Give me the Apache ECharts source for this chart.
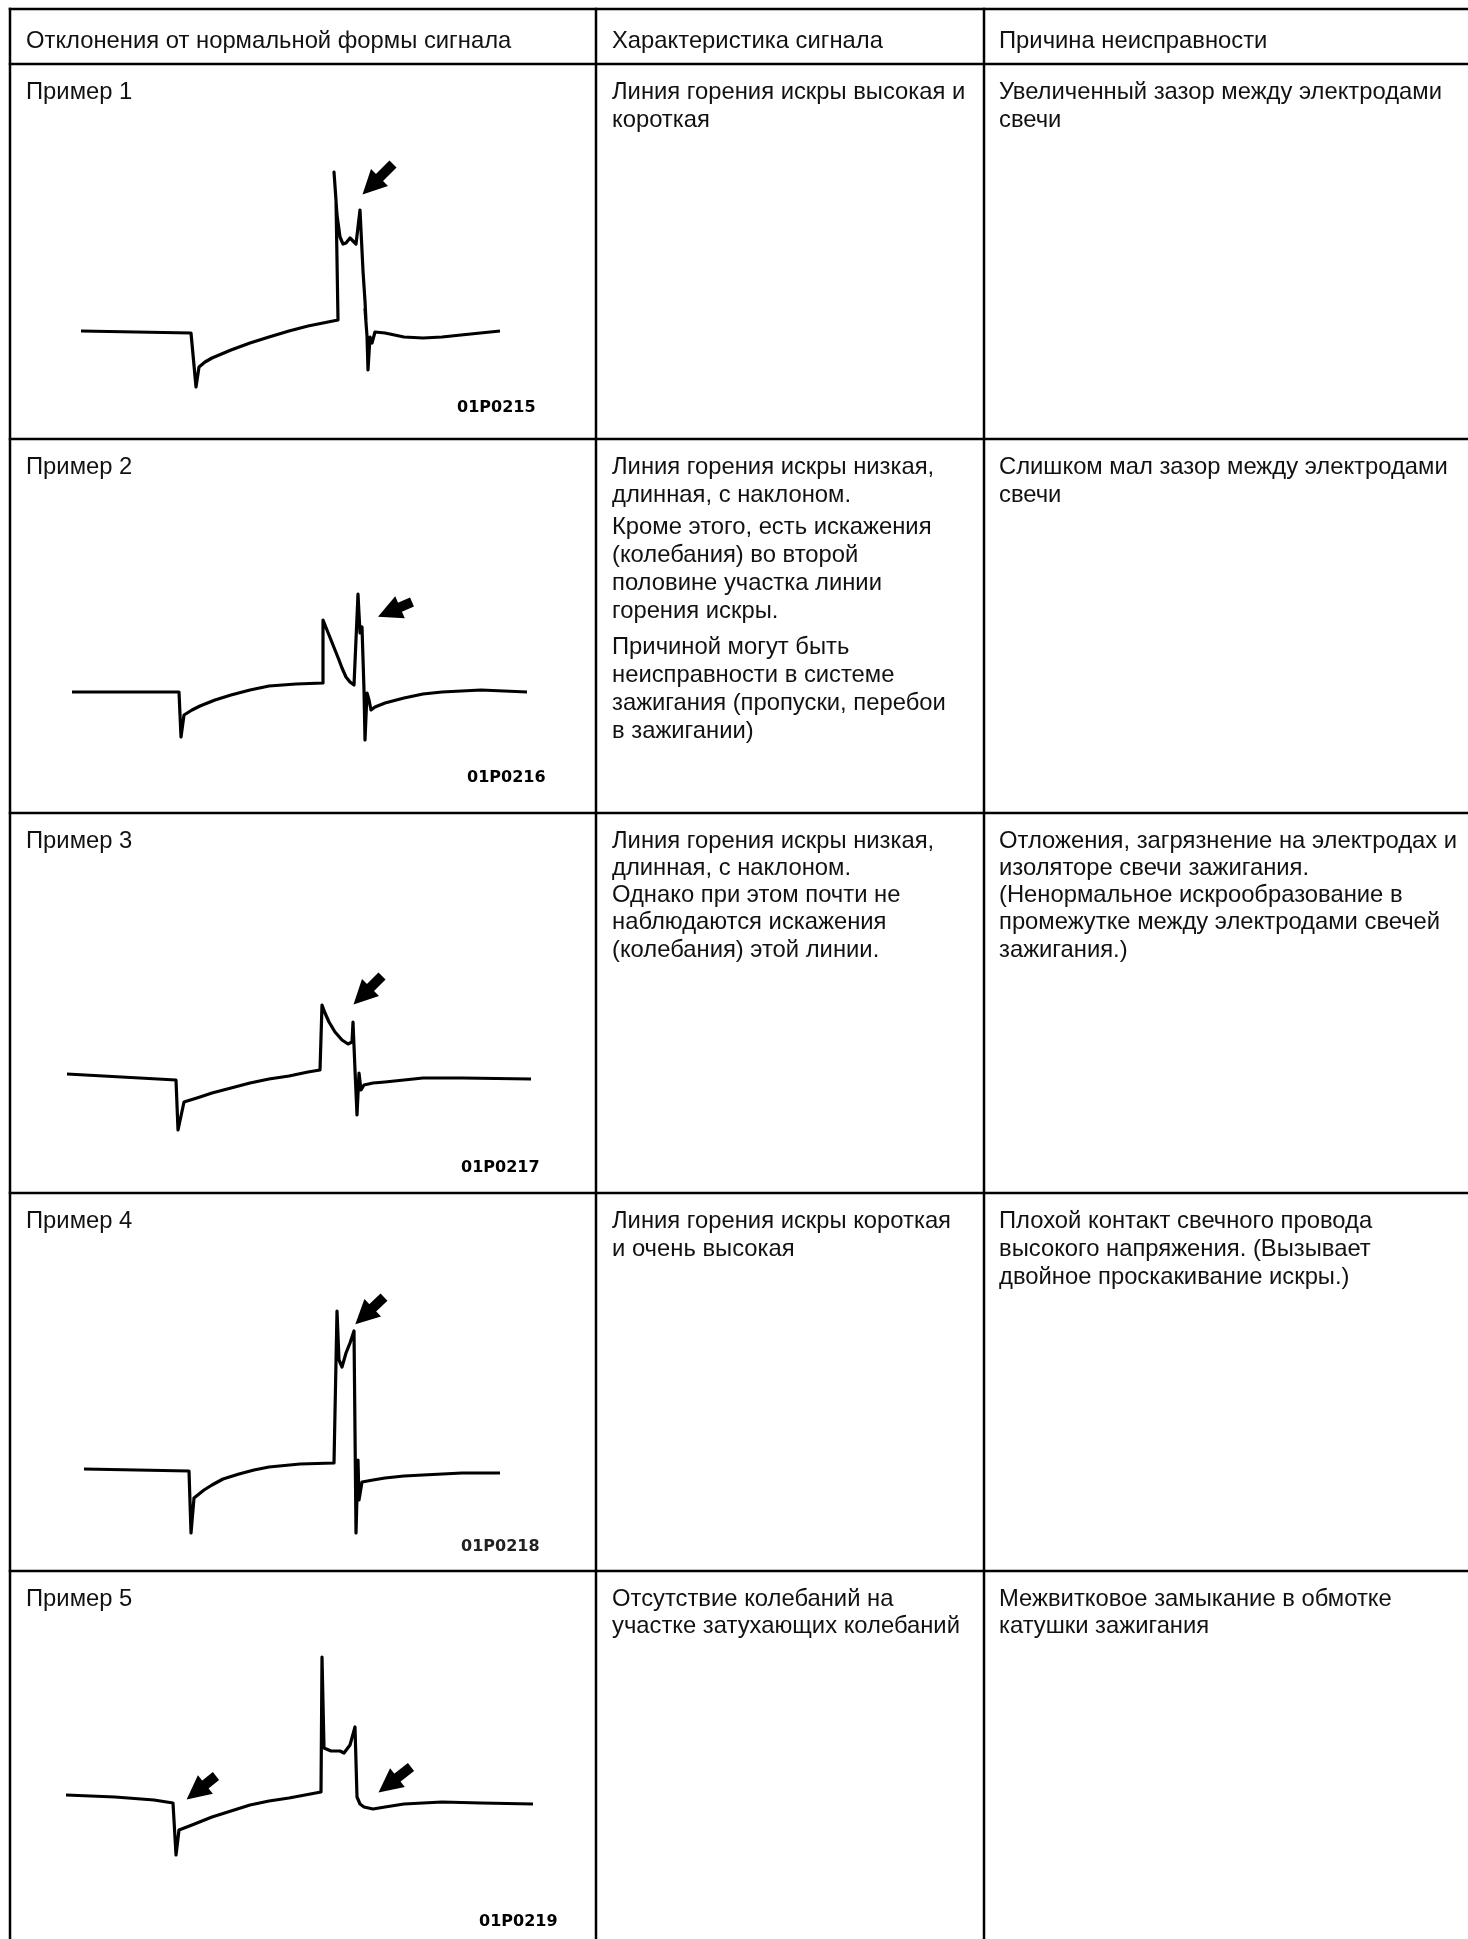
<!DOCTYPE html>
<html><head><meta charset="utf-8">
<script src="https://cdn.jsdelivr.net/npm/echarts@6/dist/echarts.min.js"></script>
<style>html,body{margin:0;padding:0;background:#fff}#c{width:1468px;height:1939px}</style>
</head><body><div id="c"></div>
<script>
// ---- texts ----
const headers = ['Отклонения от нормальной формы сигнала', 'Характеристика сигнала', 'Причина неисправности'];
const examples = ['Пример 1', 'Пример 2', 'Пример 3', 'Пример 4', 'Пример 5'];
const codes = ['01P0215', '01P0216', '01P0217', '01P0218', '01P0219'];
const characteristic = [
  [['Линия горения искры высокая и', 'короткая']],
  [['Линия горения искры низкая,', 'длинная, с наклоном.'],
   ['Кроме этого, есть искажения', '(колебания) во второй', 'половине участка линии', 'горения искры.'],
   ['Причиной могут быть', 'неисправности в системе', 'зажигания (пропуски, перебои', 'в зажигании)']],
  [['Линия горения искры низкая,', 'длинная, с наклоном.', 'Однако при этом почти не', 'наблюдаются искажения', '(колебания) этой линии.']],
  [['Линия горения искры короткая', 'и очень высокая']],
  [['Отсутствие колебаний на', 'участке затухающих колебаний']]
];
const cause = [
  [['Увеличенный зазор между электродами', 'свечи']],
  [['Слишком мал зазор между электродами', 'свечи']],
  [['Отложения, загрязнение на электродах и', 'изоляторе свечи зажигания.', '(Ненормальное искрообразование в', 'промежутке между электродами свечей', 'зажигания.)']],
  [['Плохой контакт свечного провода', 'высокого напряжения. (Вызывает', 'двойное проскакивание искры.)']],
  [['Межвитковое замыкание в обмотке', 'катушки зажигания']]
];

// ---- waveforms: [time, voltage] (arbitrary units) ----
const wave1 = [[21,0],[131,-2],[136,-56],[139,-36],[145,-31],[152,-27],[171,-19],[190,-12],[209,-6],[229,0],[248,5],[278,11],[276,131],[274,159],[277,116],[280,94],[283,87],[286,88],[290,93],[296,87],[300,121],[303,60],[305,30],[306,10],[305,22],[307,-5],[308,-39],[310,-6],[312,-12],[315,-1],[325,-2],[344,-6],[363,-7],[382,-6],[401,-4],[440,0]];
const wave2 = [[12,0],[119,0],[121,-45],[124,-23],[132,-18],[140,-14],[155,-8],[171,-3],[190,2],[209,6],[236,8],[263,9],[263,72],[267,62],[271,52],[275,42],[279,32],[282,24],[286,15],[290,10],[294,7],[298,98],[300,59],[302,65],[304,2],[305,-48],[307,-1],[309,-8],[311,-18],[315,-15],[325,-11],[344,-6],[363,-2],[382,0],[421,2],[467,0]];
const wave3 = [[7,0],[116,-6],[118,-56],[124,-28],[140,-23],[152,-19],[171,-14],[190,-9],[209,-5],[229,-2],[248,2],[260,4],[262,69],[265,61],[269,52],[275,42],[282,34],[288,30],[292,32],[293,52],[295,4],[297,-41],[299,1],[301,-16],[304,-11],[313,-9],[325,-8],[344,-6],[363,-4],[402,-4],[471,-5]];
const wave4 = [[24,0],[129,-2],[131,-64],[134,-29],[144,-21],[152,-16],[163,-10],[179,-5],[194,-1],[209,2],[240,5],[274,6],[277,158],[279,109],[282,102],[286,116],[290,126],[294,138],[296,-64],[298,9],[299,-31],[302,-13],[313,-11],[325,-9],[344,-7],[363,-6],[402,-4],[440,-4]];
const wave5 = [[6,0],[55,-2],[94,-5],[113,-8],[116,-60],[119,-35],[132,-30],[152,-22],[171,-16],[190,-10],[209,-6],[229,-3],[261,3],[262,138],[264,47],[271,44],[280,44],[284,42],[290,50],[295,68],[297,-2],[300,-9],[304,-12],[313,-14],[325,-12],[344,-9],[382,-7],[421,-8],[473,-9]];
// arrows: [tail, head]
const arrows1 = [[[333,167],[311,145]]];
const arrows2 = [[[352,90],[329,80]]];
const arrows3 = [[[322,98],[302,78]]];
const arrows4 = [[[324,172],[304,153]]];
const arrows5 = [[[156,19],[136,3]], [[351,28],[328,10]]];

const waves = [wave1, wave2, wave3, wave4, wave5];
const arrows = [arrows1, arrows2, arrows3, arrows4, arrows5];

// ---- layout ----
const rowTops = [64, 439, 813, 1193, 1571];
const baselines = [331, 692, 1074, 1469, 1795];
const codePos = [[457, 408], [467, 778], [461, 1168], [461, 1547], [479, 1922]];
const colX = [26, 612, 999];
const FONT = '23.8px "Liberation Sans", Arial, sans-serif';
const rowLH = [28, 28, 27.3, 28, 27.5];
const PGAPS = [4, 8];

const graphic = [];
const hl = [9, 64, 439, 813, 1193, 1571];
hl.forEach(y => graphic.push({type:'line', silent:true, shape:{x1:8.75, y1:y, x2:1470, y2:y}, style:{stroke:'#000', lineWidth:2.5}}));
[10, 596, 984].forEach(x => graphic.push({type:'line', silent:true, shape:{x1:x, y1:7.75, x2:x, y2:1945}, style:{stroke:'#000', lineWidth:2.5}}));
function txt(s, x, y, font, fill) {
  graphic.push({type:'text', silent:true, x:x, y:y, style:{text:s, font:font || FONT, fill:fill || '#111', align:'left', verticalAlign:'middle'}});
}
headers.forEach((h, i) => txt(h, colX[i], 41));
function cell(paras, x, top, lh) {
  let y = top + 28;
  paras.forEach((p, pi) => {
    if (pi > 0) y += PGAPS[pi - 1];
    p.forEach(line => { txt(line, x, y); y += lh; });
  });
}
examples.forEach((e, i) => {
  txt(e, colX[0], rowTops[i] + 28);
  cell(characteristic[i], colX[1], rowTops[i], rowLH[i]);
  cell(cause[i], colX[2], rowTops[i], rowLH[i]);
  txt(codes[i], codePos[i][0], codePos[i][1], 'bold 16px "DejaVu Sans", sans-serif', i === 3 ? '#222' : '#000');
});

const grids = baselines.map(b => ({left:60, width:500, top:b - 200, height:300, containLabel:false}));
const option = {
  animation:false,
  backgroundColor:'#fff',
  graphic: graphic,
  grid: grids,
  xAxis: grids.map((g, i) => ({type:'value', gridIndex:i, min:0, max:500, show:false})),
  yAxis: grids.map((g, i) => ({type:'value', gridIndex:i, min:-100, max:200, show:false})),
  series: waves.map((w, i) => ({
    type:'line', xAxisIndex:i, yAxisIndex:i, data:w, symbol:'none', showSymbol:false, clip:false, silent:true,
    lineStyle:{color:'#000', width:3.2, join:'round'},
    markLine:{
      silent:true, animation:false, symbol:['none','triangle'], symbolSize:24,
      lineStyle:{color:'#000', width:10, type:'solid', cap:'butt'},
      label:{show:false}, emphasis:{disabled:true},
      data: arrows[i].map(a => [{coord:a[0]}, {coord:a[1]}])
    }
  }))
};
const chart = echarts.init(document.getElementById('c'), null, {renderer:'canvas', width:1468, height:1939});
chart.setOption(option);
</script>
</body></html>
